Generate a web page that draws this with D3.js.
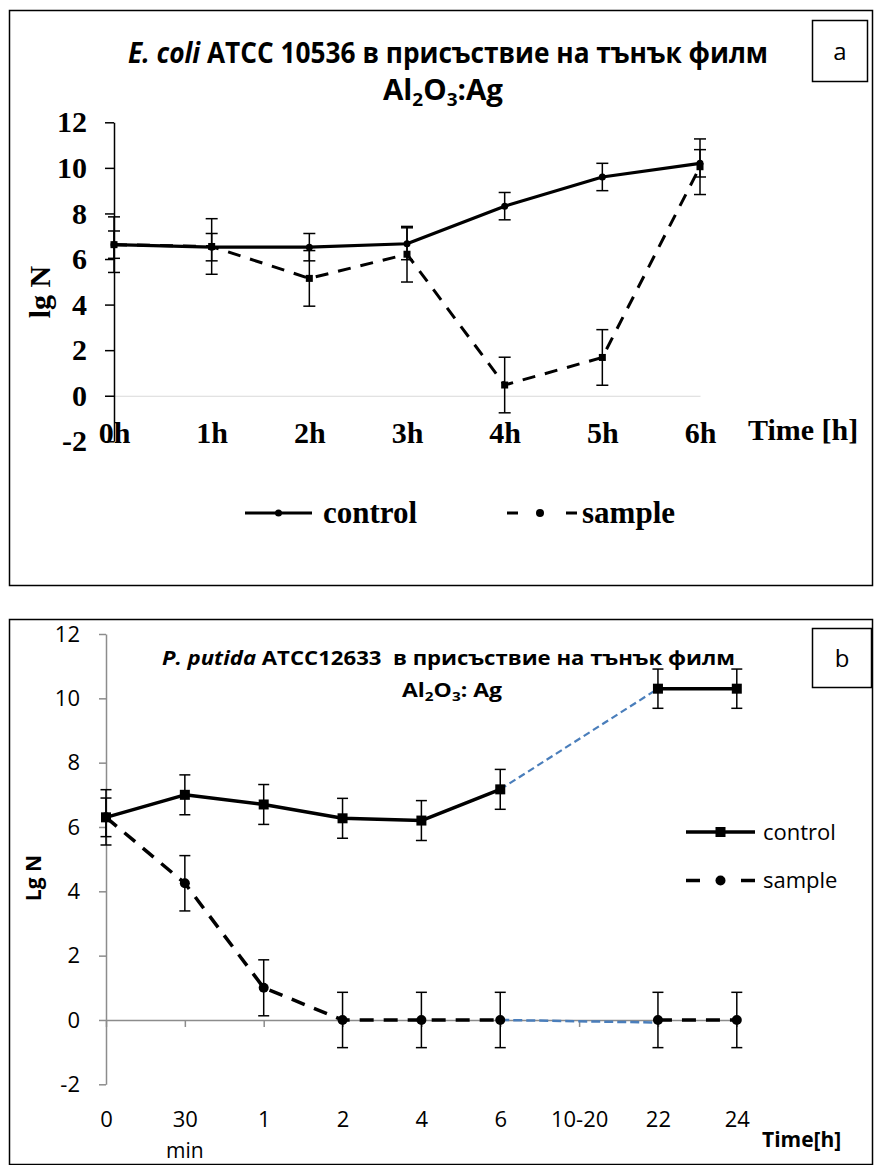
<!DOCTYPE html>
<html>
<head>
<meta charset="utf-8">
<script src="https://cdn.jsdelivr.net/npm/d3@7"></script>
<style>
  body { margin: 0; background: #fff; }
  svg { display: block; }
</style>
</head>
<body>
<svg id="chart" width="875" height="1165"></svg>
<script>
// panel a - E. coli
var TOP_CATEGORIES = ["0h", "1h", "2h", "3h", "4h", "5h", "6h"];
var TOP_CONTROL = [6.63, 6.52, 6.52, 6.67, 8.32, 9.6, 10.2];
var TOP_CONTROL_ERR = [0.6, 0.6, 0.6, 0.7, 0.6, 0.6, 0.6];
var TOP_SAMPLE = [6.63, 6.55, 5.15, 6.21, 0.47, 1.68, 10.05];
var TOP_SAMPLE_ERR = [1.22, 1.22, 1.22, 1.22, 1.22, 1.22, 1.22];
var TOP_TICKS = [-2, 0, 2, 4, 6, 8, 10, 12];

// panel b - P. putida
var BOTTOM_CATEGORIES = ["0", "30", "1", "2", "4", "6", "10-20", "22", "24"];
var BOTTOM_CONTROL = [6.3, 7.0, 6.7, 6.27, 6.2, 7.17, null, 10.3, 10.3];
var BOTTOM_CONTROL_ERR = [0.6, 0.62, 0.62, 0.62, 0.62, 0.62, null, 0.61, 0.61];
var BOTTOM_SAMPLE = [6.3, 4.25, 1.0, 0, 0, 0, null, 0, 0];
var BOTTOM_SAMPLE_ERR = [0.86, 0.86, 0.87, 0.86, 0.86, 0.86, null, 0.86, 0.86];
// blue dashed connectors across the 10-20 gap
var GAP_CATEGORIES = ["6", "22"];
var GAP_CONTROL = [7.17, 10.3];
var GAP_SAMPLE = [0, -0.08];
var BOTTOM_TICKS = [-2, 0, 2, 4, 6, 8, 10, 12];

var SERIF = "'Liberation Serif', 'Times New Roman', serif";
var SANS = "'Open Sans', 'Noto Sans', sans-serif";
var TITLE = "'Open Sans', 'Noto Sans', sans-serif";

var svg = d3.select("#chart");
svg.append("rect").attr("width", 875).attr("height", 1165).attr("fill", "#fff");

drawPanelA(svg);
drawPanelB(svg);

function toRows(cats, values, errs){
    return cats.map((c, i) => ({cat: c, value: values[i], err: errs ? errs[i] : null}));
}

function drawErrorBars(g, rows, x, y, cap){
    var eb = g.append("g").attr("stroke", "#000").attr("stroke-width", 1.5).attr("fill", "none");
    rows.filter((d) => d.value != null).forEach((d) => {
        var cx = x(d.cat);
        eb.append("line").attr("x1", cx).attr("x2", cx)
            .attr("y1", y(d.value - d.err)).attr("y2", y(d.value + d.err));
        eb.append("line").attr("x1", cx - cap).attr("x2", cx + cap)
            .attr("y1", y(d.value - d.err)).attr("y2", y(d.value - d.err));
        eb.append("line").attr("x1", cx - cap).attr("x2", cx + cap)
            .attr("y1", y(d.value + d.err)).attr("y2", y(d.value + d.err));
    });
}

// Al2O3 formula line with subscripts
function formula(text, sep, sub, shift){
    text.append("tspan").text("Al");
    text.append("tspan").attr("dy", shift).attr("font-size", sub).text("2");
    text.append("tspan").attr("dy", -shift).text("O");
    text.append("tspan").attr("dy", shift).attr("font-size", sub).text("3");
    text.append("tspan").attr("dy", -shift).text(sep + "Ag");
}

function drawPanelA(svg){
    var g = svg.append("g");
    g.append("rect")
        .attr("x", 9.5).attr("y", 10.5).attr("width", 863).attr("height", 575)
        .attr("fill", "none").attr("stroke", "#000").attr("stroke-width", 1.5);

    var x = d3.scalePoint().domain(TOP_CATEGORIES).range([114, 700]);
    var y = d3.scaleLinear().domain([-2, 12]).range([441.3, 122.3]);

    var control = toRows(TOP_CATEGORIES, TOP_CONTROL, TOP_CONTROL_ERR);
    var sample = toRows(TOP_CATEGORIES, TOP_SAMPLE, TOP_SAMPLE_ERR);

    // x axis along zero, light gray, no ticks
    g.append("g")
        .attr("transform", `translate(0,${y(0)})`)
        .call(d3.axisBottom(x).tickSize(0).tickSizeOuter(0).tickPadding(26))
        .call((a) => a.select(".domain").attr("stroke", "#d9d9d9").attr("stroke-width", 1.2))
        .call((a) => a.selectAll("text")
            .attr("font-family", SERIF).attr("font-weight", "bold")
            .attr("font-size", 30).attr("fill", "#000"));

    g.append("g")
        .attr("transform", "translate(114,0)")
        .call(d3.axisLeft(y).tickValues(TOP_TICKS).tickFormat((d) => String(d))
            .tickSize(9).tickSizeOuter(0).tickPadding(18))
        .call((a) => a.select(".domain").attr("stroke", "#000").attr("stroke-width", 1.5))
        .call((a) => a.selectAll(".tick line").attr("stroke", "#000").attr("stroke-width", 1.5))
        .call((a) => a.selectAll("text")
            .attr("font-family", SERIF).attr("font-weight", "bold")
            .attr("font-size", 30).attr("fill", "#000"));

    g.append("text")
        .attr("x", 748).attr("y", 440)
        .attr("font-family", SERIF).attr("font-weight", "bold").attr("font-size", 30)
        .text("Time [h]");
    g.append("text")
        .attr("transform", "translate(50,292) rotate(-90)")
        .attr("text-anchor", "middle")
        .attr("font-family", SERIF).attr("font-weight", "bold").attr("font-size", 30)
        .text("lg N");

    var line = d3.line().x((d) => x(d.cat)).y((d) => y(d.value));
    g.append("path").datum(sample).attr("d", line)
        .attr("fill", "none").attr("stroke", "#000").attr("stroke-width", 3)
        .attr("stroke-dasharray", "13,10");
    g.append("path").datum(control).attr("d", line)
        .attr("fill", "none").attr("stroke", "#000").attr("stroke-width", 3.2)
        .attr("stroke-linejoin", "round");

    drawErrorBars(g, control, x, y, 6);
    drawErrorBars(g, sample, x, y, 6);

    g.append("g").selectAll("rect").data(sample).join("rect")
        .attr("x", (d) => x(d.cat) - 3.5).attr("y", (d) => y(d.value) - 3.5)
        .attr("width", 7).attr("height", 7).attr("fill", "#000");
    g.append("g").selectAll("circle").data(control).join("circle")
        .attr("cx", (d) => x(d.cat)).attr("cy", (d) => y(d.value))
        .attr("r", 3.5).attr("fill", "#000");

    // title
    var t1 = g.append("text")
        .attr("x", 128).attr("y", 63)
        .attr("font-family", TITLE).attr("font-weight", "bold").attr("font-size", 28)
        .attr("textLength", 640).attr("lengthAdjust", "spacingAndGlyphs");
    t1.append("tspan").attr("font-style", "italic").text("E. coli");
    t1.append("tspan").text(" ATCC 10536 в присъствие на тънък филм");
    var t2 = g.append("text")
        .attr("x", 383).attr("y", 100)
        .attr("font-family", TITLE).attr("font-weight", "bold").attr("font-size", 28)
        .attr("textLength", 120).attr("lengthAdjust", "spacingAndGlyphs");
    formula(t2, ":", 18, 6);

    // panel letter
    g.append("rect").attr("x", 812.5).attr("y", 20.5).attr("width", 55).attr("height", 61)
        .attr("fill", "#fff").attr("stroke", "#000").attr("stroke-width", 1.5);
    g.append("text").attr("x", 840).attr("y", 60).attr("text-anchor", "middle")
        .attr("font-family", SANS).attr("font-size", 24).text("a");

    // legend
    var lg = g.append("g");
    lg.append("line").attr("x1", 245).attr("x2", 312).attr("y1", 513).attr("y2", 513)
        .attr("stroke", "#000").attr("stroke-width", 3);
    lg.append("circle").attr("cx", 278.5).attr("cy", 513).attr("r", 3.5).attr("fill", "#000");
    lg.append("text").attr("x", 323).attr("y", 523)
        .attr("font-family", SERIF).attr("font-weight", "bold").attr("font-size", 31)
        .text("control");
    lg.append("line").attr("x1", 507).attr("x2", 577).attr("y1", 513).attr("y2", 513)
        .attr("stroke", "#000").attr("stroke-width", 3).attr("stroke-dasharray", "11,48");
    lg.append("circle").attr("cx", 540).attr("cy", 513).attr("r", 4).attr("fill", "#000");
    lg.append("text").attr("x", 582).attr("y", 523)
        .attr("font-family", SERIF).attr("font-weight", "bold").attr("font-size", 31)
        .text("sample");
}

function drawPanelB(svg){
    var g = svg.append("g");
    g.append("rect")
        .attr("x", 9.5).attr("y", 619.5).attr("width", 863).attr("height", 545)
        .attr("fill", "none").attr("stroke", "#000").attr("stroke-width", 1.5);

    var x = d3.scalePoint().domain(BOTTOM_CATEGORIES).range([106, 736.8]);
    var y = d3.scaleLinear().domain([-2, 12]).range([1084.3, 634]);

    var control = toRows(BOTTOM_CATEGORIES, BOTTOM_CONTROL, BOTTOM_CONTROL_ERR);
    var sample = toRows(BOTTOM_CATEGORIES, BOTTOM_SAMPLE, BOTTOM_SAMPLE_ERR);

    g.append("g")
        .attr("transform", "translate(106,0)")
        .call(d3.axisLeft(y).tickValues(BOTTOM_TICKS).tickFormat((d) => String(d))
            .tickSize(7).tickSizeOuter(0).tickPadding(19))
        .call((a) => a.select(".domain").attr("stroke", "#8c8c8c").attr("stroke-width", 1.5))
        .call((a) => a.selectAll(".tick line").attr("stroke", "#8c8c8c").attr("stroke-width", 1.5))
        .call((a) => a.selectAll("text")
            .attr("font-family", SANS).attr("font-size", 22).attr("fill", "#000"));

    g.append("g")
        .attr("transform", `translate(0,${y(0)})`)
        .call(d3.axisBottom(x).tickSize(7).tickSizeOuter(0).tickPadding(84))
        .call((a) => a.select(".domain").attr("stroke", "#8c8c8c").attr("stroke-width", 1.5))
        .call((a) => a.selectAll(".tick line").attr("stroke", "#8c8c8c").attr("stroke-width", 1.5))
        .call((a) => a.selectAll("text")
            .attr("font-family", SANS).attr("font-size", 22).attr("fill", "#000"));

    g.append("text").attr("x", x("30")).attr("y", 1158).attr("text-anchor", "middle")
        .attr("font-family", SANS).attr("font-size", 21).text("min");
    g.append("text").attr("x", 762).attr("y", 1147)
        .attr("font-family", SANS).attr("font-weight", "bold").attr("font-size", 21)
        .text("Time[h]");
    g.append("text")
        .attr("transform", "translate(41,878) rotate(-90)")
        .attr("text-anchor", "middle")
        .attr("font-family", SANS).attr("font-weight", "bold").attr("font-size", 21)
        .text("Lg N");

    var line = d3.line().defined((d) => d.value != null).x((d) => x(d.cat)).y((d) => y(d.value));

    var gapLine = d3.line().x((d) => x(d.cat)).y((d) => y(d.value));
    g.append("path").datum(toRows(GAP_CATEGORIES, GAP_CONTROL)).attr("d", gapLine)
        .attr("fill", "none").attr("stroke", "#4a7ebb").attr("stroke-width", 2.2)
        .attr("stroke-dasharray", "7,4");
    g.append("path").datum(toRows(GAP_CATEGORIES, GAP_SAMPLE)).attr("d", gapLine)
        .attr("fill", "none").attr("stroke", "#4a7ebb").attr("stroke-width", 2.5)
        .attr("stroke-dasharray", "9,4");

    g.append("path").datum(sample).attr("d", line)
        .attr("fill", "none").attr("stroke", "#000").attr("stroke-width", 3.5)
        .attr("stroke-dasharray", "14,10");
    g.append("path").datum(control).attr("d", line)
        .attr("fill", "none").attr("stroke", "#000").attr("stroke-width", 3.5)
        .attr("stroke-linejoin", "round");

    drawErrorBars(g, control, x, y, 5.5);
    drawErrorBars(g, sample, x, y, 5.5);

    g.append("g").selectAll("circle").data(sample.filter((d) => d.value != null)).join("circle")
        .attr("cx", (d) => x(d.cat)).attr("cy", (d) => y(d.value))
        .attr("r", 5).attr("fill", "#000");
    g.append("g").selectAll("rect").data(control.filter((d) => d.value != null)).join("rect")
        .attr("x", (d) => x(d.cat) - 5).attr("y", (d) => y(d.value) - 5)
        .attr("width", 10).attr("height", 10).attr("fill", "#000");

    // title
    var t1 = g.append("text")
        .attr("x", 162).attr("y", 665)
        .attr("font-family", TITLE).attr("font-weight", "bold").attr("font-size", 19.5)
        .attr("textLength", 573).attr("lengthAdjust", "spacingAndGlyphs")
        .style("white-space", "pre");
    t1.append("tspan").attr("font-style", "italic").text("P. putida");
    t1.append("tspan").text(" ATCC12633  в присъствие на тънък филм");
    var t2 = g.append("text")
        .attr("x", 402).attr("y", 697)
        .attr("font-family", TITLE).attr("font-weight", "bold").attr("font-size", 19.5)
        .attr("textLength", 100).attr("lengthAdjust", "spacingAndGlyphs")
        .style("white-space", "pre");
    formula(t2, ": ", 13, 4);

    g.append("rect").attr("x", 812.5).attr("y", 628.5).attr("width", 59).attr("height", 59)
        .attr("fill", "#fff").attr("stroke", "#000").attr("stroke-width", 1.5);
    g.append("text").attr("x", 842).attr("y", 667).attr("text-anchor", "middle")
        .attr("font-family", SANS).attr("font-size", 24).text("b");

    // legend
    var lg = g.append("g");
    lg.append("line").attr("x1", 686).attr("x2", 755).attr("y1", 832).attr("y2", 832)
        .attr("stroke", "#000").attr("stroke-width", 3.5);
    lg.append("rect").attr("x", 715.5).attr("y", 827).attr("width", 10).attr("height", 10).attr("fill", "#000");
    lg.append("text").attr("x", 763).attr("y", 840)
        .attr("font-family", SANS).attr("font-size", 22).text("control");
    lg.append("line").attr("x1", 686).attr("x2", 755).attr("y1", 880.5).attr("y2", 880.5)
        .attr("stroke", "#000").attr("stroke-width", 3.5).attr("stroke-dasharray", "14,41");
    lg.append("circle").attr("cx", 720.5).attr("cy", 880.5).attr("r", 5).attr("fill", "#000");
    lg.append("text").attr("x", 763).attr("y", 888)
        .attr("font-family", SANS).attr("font-size", 22).text("sample");
}
</script>
</body>
</html>
